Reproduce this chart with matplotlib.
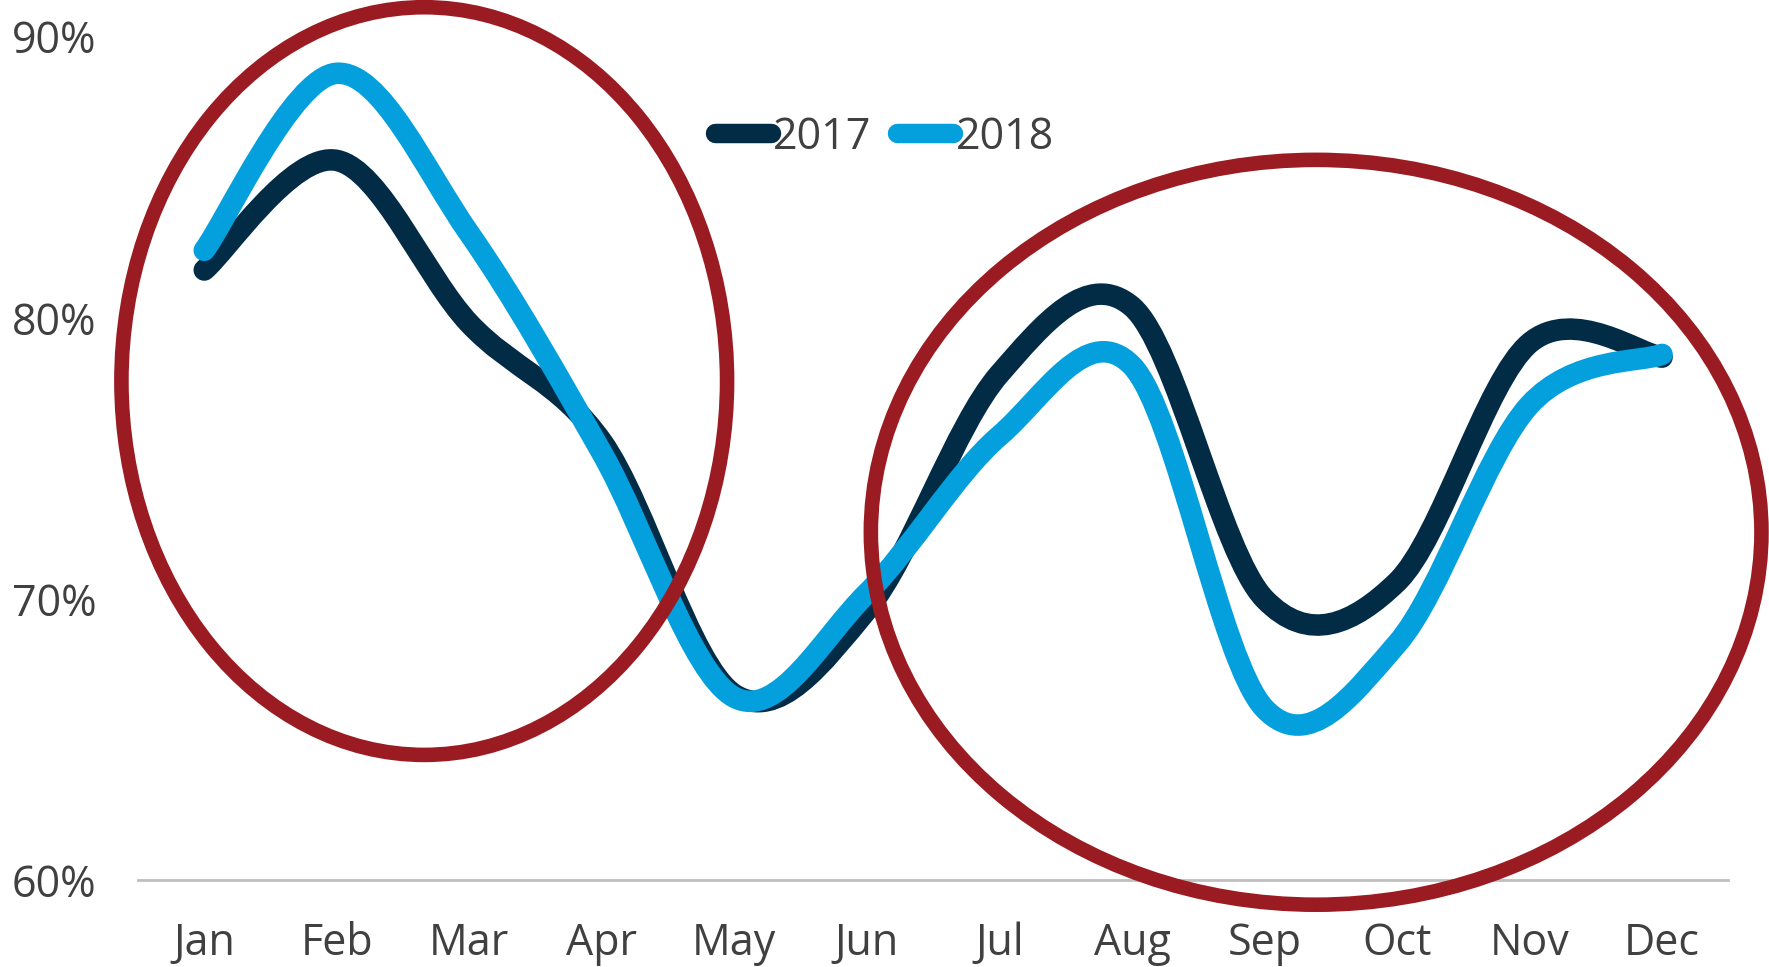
import numpy as np
import matplotlib
matplotlib.use("Agg")
import matplotlib.pyplot as plt
from matplotlib.path import Path
from matplotlib.patches import PathPatch, Ellipse
from matplotlib.lines import Line2D
from matplotlib.ticker import FuncFormatter

months = ["Jan", "Feb", "Mar", "Apr", "May", "Jun",
          "Jul", "Aug", "Sep", "Oct", "Nov", "Dec"]
y2017 = [81.7, 85.6, 79.8, 75.6, 66.6, 69.6, 78.0, 80.4, 70.0, 70.6, 79.1, 78.6]
y2018 = [82.4, 88.7, 83.0, 75.2, 66.5, 70.2, 75.8, 78.3, 66.1, 68.4, 76.9, 78.7]
series = {"2017": (y2017, "#022b46"), "2018": (y2018, "#049fdd")}

plt.rcParams['font.family'] = ['Open Sans', 'DejaVu Sans']


def smooth_path(xs, ys):
    # excel-style smoothed line: cubic bezier through every point
    pts = np.column_stack([xs, ys]).astype(float)
    n = len(pts)
    verts = [pts[0]]
    codes = [Path.MOVETO]
    for i in range(n - 1):
        p0 = pts[i - 1] if i > 0 else pts[i]
        p1 = pts[i]
        p2 = pts[i + 1]
        p3 = pts[i + 2] if i + 2 < n else pts[i + 1]
        c1 = p1 + (p2 - p0) / 6.0
        c2 = p2 - (p3 - p1) / 6.0
        verts += [c1, c2, p2]
        codes += [Path.CURVE4] * 3
    return Path(verts, codes)


fig = plt.figure(figsize=(17.69, 9.67), dpi=100)
ax = fig.add_axes([0.078, 0.090, 0.899, 0.872])

x = np.arange(len(months))
for name, (vals, col) in series.items():
    pp = PathPatch(smooth_path(x, vals), facecolor="none", edgecolor=col,
                   lw=15.5, capstyle="round", joinstyle="round", zorder=3)
    ax.add_patch(pp)

# red highlight ellipses
ell_col = "#9b1b22"
ax.add_patch(Ellipse((1.66, 77.75), 4.57, 26.6, fill=False, ec=ell_col,
                     lw=10.5, clip_on=False, zorder=4))
ax.add_patch(Ellipse((8.39, 72.37), 6.72, 26.5, fill=False, ec=ell_col,
                     lw=10.5, clip_on=False, zorder=4))

ax.set_xlim(-0.5, 11.5)
ax.set_ylim(60, 90)
ax.set_xticks(x)
ax.set_xticklabels(months)
ax.set_yticks([60, 70, 80, 90])
ax.yaxis.set_major_formatter(FuncFormatter(lambda v, p: f"{v:.0f}%"))
ax.tick_params(axis="both", length=0, labelsize=31, labelcolor="#404040")
ax.tick_params(axis="x", pad=30)
ax.tick_params(axis="y", pad=30)
for s in ["top", "right", "left"]:
    ax.spines[s].set_visible(False)
ax.spines["bottom"].set_color("#bfbfbf")
ax.spines["bottom"].set_linewidth(2)

handles = [Line2D([0], [0], color=c, lw=14, solid_capstyle="round")
           for _, c in series.values()]
fig.legend(handles, list(series.keys()), loc="center", ncol=2,
           bbox_to_anchor=(0.5, 0.858), frameon=False, fontsize=31,
           labelcolor="#404040", handlelength=1.3, handletextpad=0.05,
           columnspacing=0.6)

fig.savefig("out.png", dpi=100)
